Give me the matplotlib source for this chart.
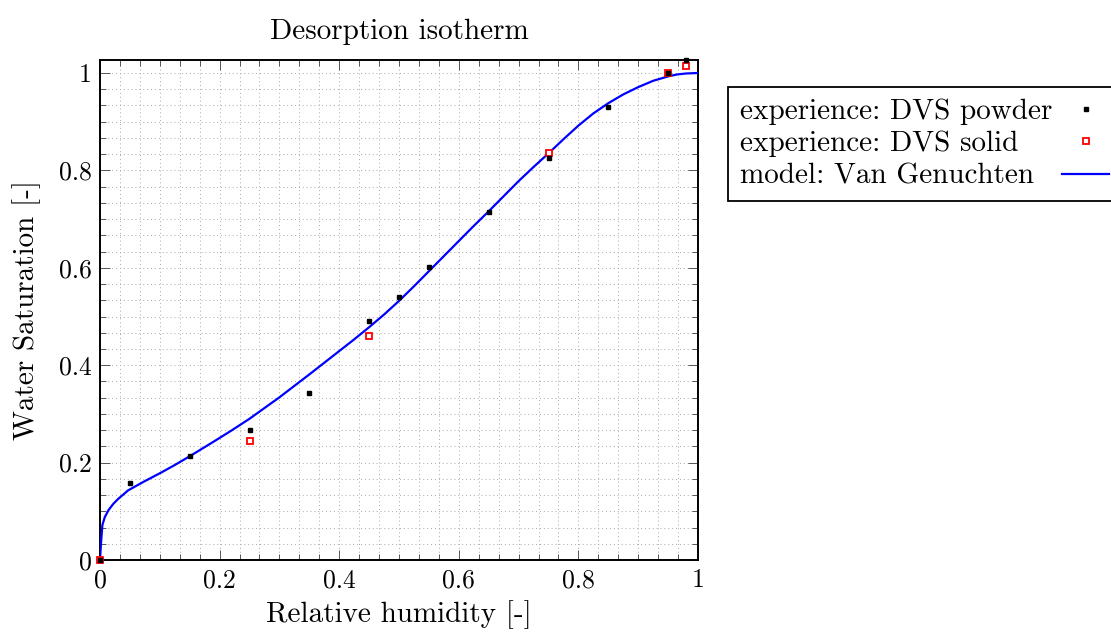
import numpy as np
import matplotlib
matplotlib.use("Agg")
import matplotlib.pyplot as plt
from matplotlib.ticker import MultipleLocator, FuncFormatter

plt.rcParams["font.family"] = ["cmr10", "DejaVu Serif"]
plt.rcParams["axes.formatter.use_mathtext"] = True
plt.rcParams["axes.unicode_minus"] = False

rh_powder = [0.0, 0.05, 0.15, 0.25, 0.35, 0.45, 0.50, 0.55, 0.65, 0.75, 0.85, 0.95, 0.98]
sat_powder = [0.0, 0.158, 0.214, 0.267, 0.343, 0.491, 0.540, 0.602, 0.715, 0.825, 0.930, 1.0, 1.027]

rh_solid = [0.0, 0.25, 0.45, 0.75, 0.95, 0.98]
sat_solid = [0.0, 0.244, 0.460, 0.836, 1.0, 1.015]

# Van Genuchten model curve, sampled from the figure
rh_model = [0.0, 0.002, 0.004, 0.008, 0.014, 0.022, 0.030, 0.047, 0.075, 0.103,
            0.125, 0.150, 0.190, 0.220, 0.250, 0.300, 0.334, 0.350, 0.375, 0.400,
            0.425, 0.450, 0.475, 0.500, 0.525, 0.550, 0.575, 0.600, 0.625, 0.650,
            0.675, 0.700, 0.725, 0.750, 0.775, 0.800, 0.825, 0.850, 0.875, 0.900,
            0.925, 0.950, 0.965, 0.980, 1.0]
sat_model = [0.0, 0.040, 0.072, 0.088, 0.102, 0.115, 0.125, 0.143, 0.162, 0.180,
             0.195, 0.213, 0.243, 0.266, 0.290, 0.334, 0.366, 0.381, 0.405, 0.429,
             0.453, 0.478, 0.504, 0.532, 0.562, 0.593, 0.624, 0.655, 0.686, 0.716,
             0.747, 0.778, 0.807, 0.835, 0.864, 0.892, 0.917, 0.938, 0.956, 0.971,
             0.984, 0.993, 0.997, 0.999, 1.0]

FS = 21
TICK_FS = 18.5

fig = plt.figure(figsize=(11.11, 6.35), dpi=100)
ax = fig.add_axes([100 / 1111, 1 - 560 / 635, 598 / 1111, 500 / 635])

ax.plot(rh_powder, sat_powder, "s", color="black", markersize=2.8, linestyle="none",
        label="experience: DVS powder", zorder=5, clip_on=False)
ax.plot(rh_solid, sat_solid, "s", markerfacecolor="white", markeredgecolor="red",
        markeredgewidth=1.3, markersize=4.5, linestyle="none",
        label="experience: DVS solid", zorder=4, clip_on=False)
ax.plot(rh_model, sat_model, "-", color="blue", linewidth=1.6,
        label="model: Van Genuchten", zorder=3)

ax.set_xlim(0, 1)
ax.set_ylim(0, 1.0267)
ax.xaxis.set_major_locator(MultipleLocator(0.2))
ax.yaxis.set_major_locator(MultipleLocator(0.2))
ax.xaxis.set_minor_locator(MultipleLocator(0.2 / 6))
ax.yaxis.set_minor_locator(MultipleLocator(0.2 / 6))
fmt = FuncFormatter(lambda v, p: f"{v:g}")
ax.xaxis.set_major_formatter(fmt)
ax.yaxis.set_major_formatter(fmt)

ax.tick_params(which="both", direction="in", top=True, right=True,
               labelsize=TICK_FS, width=0.7, color="#555555")
ax.tick_params(which="major", length=7)
ax.tick_params(which="minor", length=4.5)
ax.tick_params(axis="x", pad=6)
ax.tick_params(axis="y", pad=6)

ax.grid(which="both", linestyle=(0, (1, 3)), linewidth=0.7, color="#a8a8a8")
ax.set_axisbelow(True)
for s in ax.spines.values():
    s.set_linewidth(1.4)

ax.set_title("Desorption isotherm", fontsize=FS, pad=15)
ax.set_xlabel("Relative humidity [-]", fontsize=FS, labelpad=6)
ax.set_ylabel("Water Saturation [-]", fontsize=FS, labelpad=13)

leg = fig.legend(loc="upper left", bbox_to_anchor=(728 / 1111, 1 - 87 / 635),
                 fontsize=FS, markerfirst=False, fancybox=False, framealpha=1,
                 edgecolor="black", handlelength=1.6, handletextpad=0.35,
                 borderpad=0.4, labelspacing=0.2, borderaxespad=0)
leg.get_frame().set_linewidth(1.3)

# left-align the labels while keeping the handles in one column on the right
fig.canvas.draw()
renderer = fig.canvas.get_renderer()
column = leg._legend_handle_box.get_children()[0]
rows = column.get_children()
row_w = max(r.get_bbox(renderer).width for r in rows)
for r in rows:
    r.width = row_w
    r.mode = "expand"
column.align = "left"

fig.savefig("out.png", dpi=100)
